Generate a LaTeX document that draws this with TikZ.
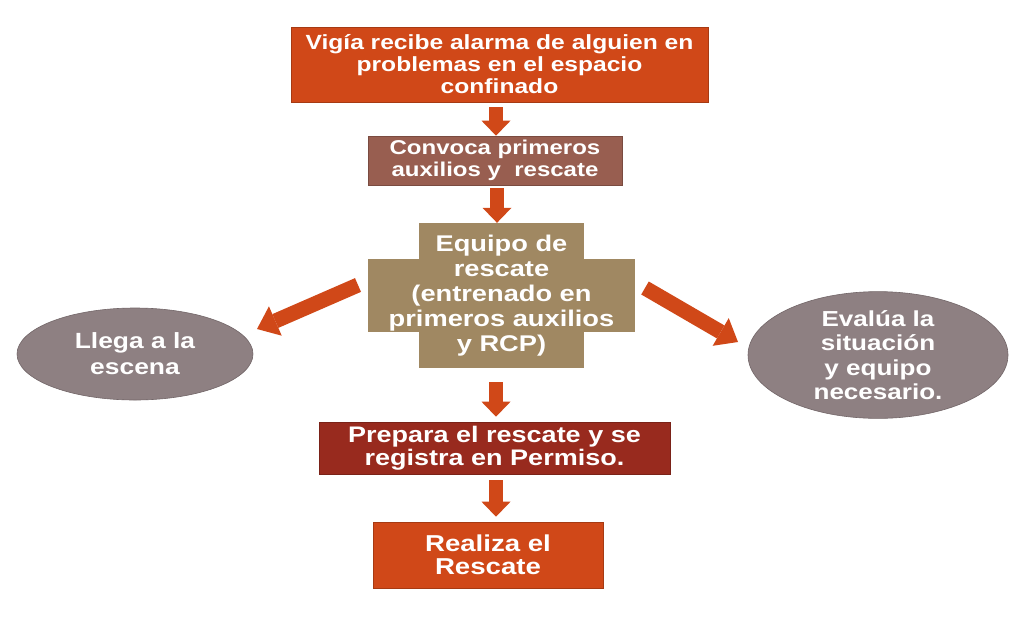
\documentclass[tikz,border=0pt]{standalone}
\usepackage{fontspec}
\setmainfont{Liberation Sans}[FakeStretch=1.2]
\usetikzlibrary{arrows.meta,shapes.geometric}
\definecolor{naranja}{RGB}{208,72,24}
\definecolor{marron}{RGB}{152,94,80}
\definecolor{cruz}{RGB}{160,136,98}
\definecolor{gris}{RGB}{142,128,130}
\definecolor{granate}{RGB}{152,42,30}
\newcommand{\tam}[2]{\bfseries\fontsize{#1}{#2}\selectfont}
\tikzset{
	caja/.style={rectangle, draw=#1!80!black, line width=0.6pt, fill=#1, text=white, align=center, inner sep=0pt},
	globo/.style={ellipse, draw=gris!80!black, line width=0.6pt, fill=gris, text=white, align=center, inner sep=0pt},
	flecha/.style={draw=naranja, line width=14pt, -{Triangle[length=15pt,width=29pt,line width=0pt]}},
	diagonal/.style={draw=naranja, line width=15pt, -{Triangle[length=20pt,width=32pt,line width=0pt]}}
}
\begin{document}
\begin{tikzpicture}[x=1pt,y=-1pt]
	\useasboundingbox[fill=white] (0,0) rectangle (1024,616);
	
	\node[caja=naranja, minimum width=417pt, minimum height=75pt, font=\tam{20.5}{22}] (vigia) at (499.5,64.5)
		{Vigía recibe alarma de alguien en\\problemas en el espacio\\confinado};
	\node[caja=marron, minimum width=254pt, minimum height=49pt, font=\tam{20}{21.7}] (convoca) at (495,160.5)
		{Convoca primeros\\auxilios y\ \ rescate};
	
	\fill[color=cruz] (368,259) rectangle (635,332);
	\fill[color=cruz] (419,223) rectangle (584,368);
	\node[align=center, text=white, font=\tam{22.7}{25}, inner sep=0pt, minimum width=165pt, minimum height=145pt] (equipo) at (501.5,295.5)
		{Equipo de\\rescate\\(entrenado en\\primeros auxilios\\y RCP)};
	
	\node[globo, minimum width=236pt, minimum height=92pt, font=\tam{22}{26}] (llega) at (135,354)
		{Llega a la\\escena};
	\node[globo, minimum width=260pt, minimum height=114pt, font=\tam{21.7}{24.5}] (evalua) at (878,355)
		{Evalúa la\\situación\\y equipo\\necesario.};
	
	\node[caja=granate, minimum width=351pt, minimum height=52pt, font=\tam{22.5}{23}] (prepara) at (494.5,448)
		{Prepara el rescate y se\\registra en Permiso.};
	\node[caja=naranja, minimum width=230pt, minimum height=66pt, font=\tam{23}{23.5}] (realiza) at (488,555)
		{Realiza el\\Rescate};
	
	\coordinate (izqA) at (358,285);
	\coordinate (izqB) at (257,329);
	\coordinate (derA) at (645,288);
	\coordinate (derB) at (738,342);
	
	\draw[flecha, shorten <=5pt] (vigia.south -| 496,0) -- (convoca.north -| 496,0);
	\draw[flecha, shorten <=3pt] (convoca.south -| 497,0) -- (equipo.north -| 497,0);
	\draw[flecha, shorten <=14pt, shorten >=5pt] (equipo.south -| 496,0) -- (prepara.north -| 496,0);
	\draw[flecha, shorten <=6pt, shorten >=5pt] (prepara.south -| 496,0) -- (realiza.north -| 496,0);
	\draw[diagonal] (izqA) -- (izqB);
	\draw[diagonal] (derA) -- (derB);
	
\end{tikzpicture}
\end{document}
